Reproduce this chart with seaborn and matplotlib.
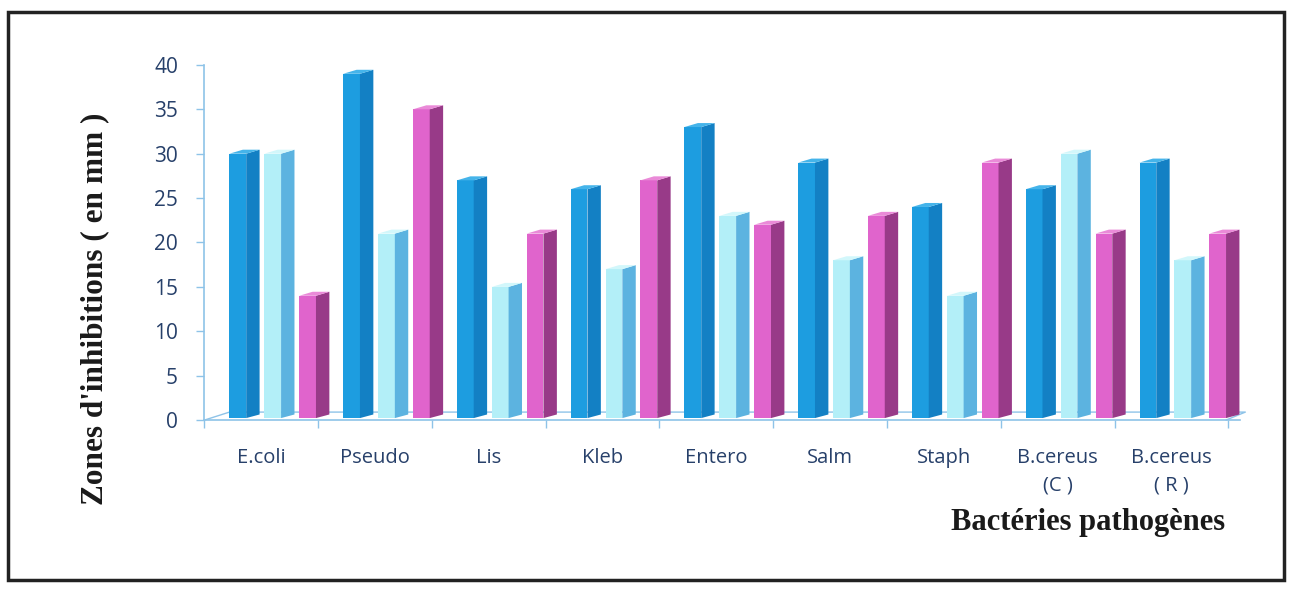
import numpy as np
import pandas as pd
import matplotlib
matplotlib.use("Agg")
import matplotlib.pyplot as plt
import seaborn as sns
from matplotlib.patches import Polygon, Rectangle

categories = ["E.coli", "Pseudo", "Lis", "Kleb", "Entero", "Salm", "Staph",
              "B.cereus\n(C )", "B.cereus\n( R )"]
series_names = ["S1", "S2", "S3"]
s1 = [30, 39, 27, 26, 33, 29, 24, 26, 29]
s2 = [30, 21, 15, 17, 23, 18, 14, 30, 18]
s3 = [14, 35, 21, 27, 22, 23, 29, 21, 21]
y_ticks = [0, 5, 10, 15, 20, 25, 30, 35, 40]

front_colors = ["#1d9de0", "#b3eff8", "#e064cc"]
side_colors = ["#1380c4", "#5cb3e0", "#983a88"]
top_colors = ["#45b4ea", "#d2f7fb", "#ea8ad8"]

df = pd.DataFrame({
    "cat": np.repeat(categories, 3),
    "serie": series_names * len(categories),
    "val": np.ravel(np.column_stack([s1, s2, s3])),
})

sns.set_theme(style="white")
fig = plt.figure(figsize=(12.94, 5.90), dpi=100)
ax = fig.add_axes([0.158, 0.288, 0.80, 0.602])

sns.barplot(data=df, x="cat", y="val", hue="serie", order=categories,
            hue_order=series_names, palette=front_colors, width=0.92, gap=0.52,
            ax=ax, legend=False, saturation=1, linewidth=0)

tick_color = "#27406a"
axis_color = "#8ec3e8"
n = len(categories)
xl0, xl1 = -0.5, n - 0.4
dy = 0.9

# floor back line (perspective)
ax.plot([xl0, xl0 + 0.22, xl1 + 0.05, xl1 - 0.12],
        [0, dy, dy, 0], color=axis_color, lw=1.0, zorder=0.5, clip_on=False)

# pseudo-3D side and top faces derived from the seaborn bar patches
patches = list(ax.patches)
shift = 0.1
for i, p in enumerate(patches):
    k = i // n
    p.set_x(p.get_x() + shift)
    x0, w, h = p.get_x(), p.get_width(), p.get_height()
    p.set_y(dy * 0.25)
    p.set_height(h - dy * 0.25)
    dx = w * 0.8
    side = Polygon([(x0 + w, dy * 0.25), (x0 + w + dx, dy * 0.7), (x0 + w + dx, h + 0.45), (x0 + w, h)],
                   closed=True, facecolor=side_colors[k], edgecolor="none", zorder=p.get_zorder())
    top = Polygon([(x0, h), (x0 + dx, h + 0.45), (x0 + w + dx, h + 0.45), (x0 + w, h)],
                  closed=True, facecolor=top_colors[k], edgecolor="none", zorder=p.get_zorder())
    ax.add_patch(side)
    ax.add_patch(top)

ax.set_ylim(0, 40)
ax.set_xlim(xl0, xl1)
ax.set_yticks(y_ticks)
ax.set_xlabel("")
ax.set_ylabel("")

ax.tick_params(axis="y", labelsize=15, labelcolor=tick_color, color=axis_color,
               length=6, width=1, left=True, pad=13)
ax.set_xticks(np.arange(n))
ax.set_xticklabels(categories, fontsize=14.5, color=tick_color, fontfamily="Open Sans",
                   linespacing=1.5)
ax.tick_params(axis="x", length=0, pad=20)
ax.set_xticks(np.arange(n + 1) - 0.5, minor=True)
ax.tick_params(axis="x", which="minor", length=6, color=axis_color, bottom=True)
for lab in ax.get_yticklabels():
    lab.set_fontfamily("Open Sans")

for s in ["top", "right"]:
    ax.spines[s].set_visible(False)
for s in ["left", "bottom"]:
    ax.spines[s].set_color(axis_color)
    ax.spines[s].set_linewidth(1.2)

fig.text(0.0734, 0.476, "Zones d'inhibitions ( en mm )", rotation=90, ha="center",
         va="center", fontsize=22.5, fontweight="bold", fontfamily="Liberation Serif",
         color="#1a1a1a")
fig.text(0.947, 0.114, "Bactéries pathogènes", ha="right", va="center",
         fontsize=22, fontweight="bold", fontfamily="Liberation Serif", color="#1a1a1a")

fig.patches.append(Rectangle((0.006, 0.017), 0.986, 0.963, transform=fig.transFigure,
                             fill=False, edgecolor="#222222", linewidth=2.5))

fig.savefig("out.png", dpi=100)
